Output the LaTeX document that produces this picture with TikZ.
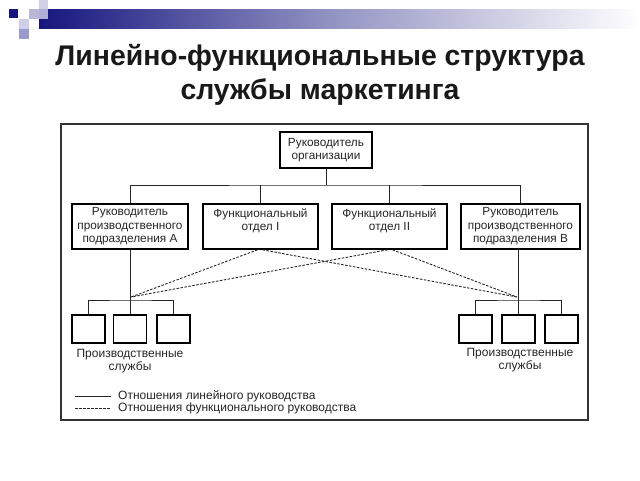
\documentclass[tikz,border=0pt]{standalone}
\usepackage{fontspec}
\setmainfont{Liberation Sans}
\definecolor{navy}{HTML}{16167E}
\definecolor{lav}{HTML}{9A9ACC}
\definecolor{lavl}{HTML}{CFCFE8}
\definecolor{lavg}{HTML}{B8B8D6}
\begin{document}
\begin{tikzpicture}[x=1pt,y=-1pt,
  box/.style={draw=black, line width=1.6pt, fill=white, inner sep=0pt, align=center,
    font=\fontsize{11.8}{13.5}\selectfont, text=black!85},
  smallbox/.style={draw=black, line width=1.5pt, fill=white, minimum width=33pt, minimum height=28pt, inner sep=0pt},
  lbl/.style={align=center, font=\fontsize{12}{12.5}\selectfont, text=black!85, inner sep=0pt},
  lin/.style={line width=0.9pt, black!85},
  fln/.style={line width=0.9pt, black!85, dash pattern=on 2.5pt off 1.5pt}]
\useasboundingbox (0,0) rectangle (640,480);
\fill[white] (0,0) rectangle (640,480);
% decoration
\shade[left color=navy, right color=white, middle color=navy!45] (39,9) rectangle (640,28);
\fill[navy] (9,9) rectangle (18,18);
\fill[lavg] (29,9) rectangle (39,19);
\fill[lav!80] (39,9) rectangle (48,19);
\fill[lavl] (39,0) rectangle (48,9);
\fill[lavl] (19,19) rectangle (29,29);
\fill[lav] (19,29) rectangle (29,39);
% title
\node[align=center, font=\fontsize{28.4}{34}\selectfont\bfseries, text=black!90] (title) at (320,75)
  {Линейно-функциональные структура\\службы маркетинга};
% frame
\node[draw=black!80, line width=1.1pt, minimum width=527pt, minimum height=296pt, inner sep=0pt] (frame) at (324.5,272) {};
% boxes
\node[box, minimum width=92pt, minimum height=36pt] (top) at (326,150) {Руководитель\\организации};
\node[box, minimum width=116pt, minimum height=45pt] (A) at (130,226.5) {Руководитель\\производственного\\подразделения А};
\node[box, minimum width=115pt, minimum height=45pt] (F1) at (260.5,226.5) {Функциональный\\отдел I\\\mbox{}};
\node[box, minimum width=115pt, minimum height=45pt] (F2) at (389.5,226.5) {Функциональный\\отдел II\\\mbox{}};
\node[box, minimum width=119pt, minimum height=45pt] (B) at (520.5,226.5) {Руководитель\\производственного\\подразделения В};
% small boxes
\node[smallbox] (a1) at (88.5,329) {};
\node[smallbox] (a2) at (130,329) {};
\node[smallbox] (a3) at (173.5,329) {};
\node[smallbox] (b1) at (475.5,329) {};
\node[smallbox] (b2) at (518.5,329) {};
\node[smallbox] (b3) at (561.5,329) {};
\node[lbl] (la) at (130,361) {Производственные\\службы};
\node[lbl] (lb) at (520,360) {Производственные\\службы};
% connectors
\coordinate (bus) at (326,185);
\draw[lin] (top.south) -- (bus);
\draw[lin] (A.north) |- (bus) -| (B.north);
\draw[lin] (F1.north) -- (F1.north |- bus);
\draw[lin] (F2.north) -- (F2.north |- bus);
\coordinate (ja) at (130,300);
\coordinate (jb) at (518.5,300);
\draw[lin] (A.south) -- (a2.north);
\draw[lin] (a1.north) |- (ja) -| (a3.north);
\draw[lin] (B.south -| b2.north) -- (b2.north);
\draw[lin] (b1.north) |- (jb) -| (b3.north);
\coordinate (da) at (131,297);
\coordinate (db) at (517,297);
\draw[fln] ([xshift=-3pt]F1.south) -- (da);
\draw[fln] ([xshift=2pt]F1.south) -- (db);
\draw[fln] ([xshift=-2pt]F2.south) -- (da);
\draw[fln] ([xshift=3pt]F2.south) -- (db);
% legend
\coordinate (l1a) at (75,396);
\coordinate (l1b) at (111,396);
\coordinate (l2a) at (75,408);
\coordinate (l2b) at (111,408);
\draw[lin, line width=0.7pt] (l1a) -- (l1b);
\draw[fln, line width=0.7pt] (l2a) -- (l2b);
\node[lbl, anchor=west] (t1) at (118,396) {Отношения линейного руководства};
\node[lbl, anchor=west] (t2) at (118,408) {Отношения функционального руководства};
\end{tikzpicture}
\end{document}
